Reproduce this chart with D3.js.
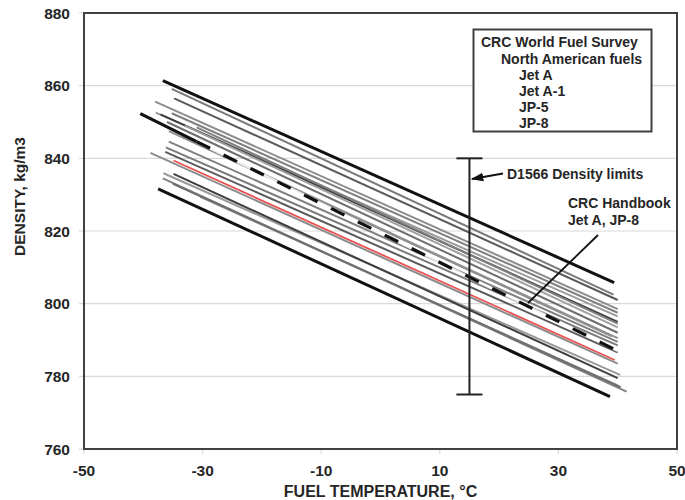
<!DOCTYPE html>
<html>
<head>
<meta charset="utf-8">
<script src="https://cdn.jsdelivr.net/npm/d3@7"></script>
<style>
  html, body { margin: 0; padding: 0; background: #fff; }
  svg { display: block; }
  text { font-family: Arial, "Liberation Sans", sans-serif; font-weight: bold; fill: #262626; }
</style>
</head>
<body>
<svg id="chart" width="685" height="500"></svg>
<script>
// ---------------- DATA ----------------
const xTicks = [-50, -30, -10, 10, 30, 50];
const yTicks = [760, 780, 800, 820, 840, 860, 880];

// CRC World Fuel Survey, North American fuels (density vs temperature lines)
const fuelStartTemp    = [-35.2, -34.8, -38.0, -37.9, -37.1, -35.2, -33.0, -36.0, -35.7, -35.7, -36.2, -36.3, -38.8, -36.6, -34.9, -36.7, -30.4, -35.0, -33.5, -31.0];
const fuelStartDensity = [859.1, 856.5, 855.6, 852.6, 852.1, 852.4, 849.0, 850.0, 847.5, 844.6, 843.0, 841.8, 841.5, 835.9, 835.7, 834.5, 829.4, 833.0, 846.0, 848.5];
const fuelEndTemp      = [ 39.3,  40.0,  40.0,  40.0,  40.0,  40.0,  40.0,  40.0,  39.0,  40.0,  40.0,  40.0,  40.0,  40.4,  40.0,  41.5,  40.0,  40.5,  40.0,  40.0];
const fuelEndDensity   = [802.5, 801.0, 798.5, 796.5, 795.0, 797.5, 793.5, 792.0, 791.0, 789.5, 788.5, 786.6, 783.5, 780.4, 779.5, 775.8, 777.5, 777.0, 790.5, 794.5];

// Red highlighted fuel
const redTemp    = [-34.9, 39.5];
const redDensity = [839.4, 784.5];

// Envelope (thick black) lines
const upperBoundTemp    = [-36.7, 39.4];
const upperBoundDensity = [861.4, 805.8];
const lowerBoundTemp    = [-37.5, 38.7];
const lowerBoundDensity = [831.6, 774.4];

// CRC Handbook Jet A, JP-8
const handbookTemp    = [-40.5, -31.0, 40.0];
const handbookDensity = [852.3, 844.6, 787.0];

// D1566 density limits
const limitTemp = 15;
const limitDensity = [775, 840];

const legendLines = ["CRC World Fuel Survey", "North American fuels", "Jet A", "Jet A-1", "JP-5", "JP-8"];

// ---------------- CHART ----------------
const svg = d3.select("#chart");
const x = d3.scaleLinear().domain([-50, 50]).range([84, 677]);
const y = d3.scaleLinear().domain([760, 880]).range([449, 13]);

// gridlines
svg.append("g").selectAll("line").data(yTicks.filter(d => d > 760 && d < 880)).join("line")
  .attr("x1", x(-50)).attr("x2", x(50))
  .attr("y1", d => y(d)).attr("y2", d => y(d))
  .attr("stroke", "#d9d9d9").attr("stroke-width", 1.2);

// tick marks (small, outside)
svg.append("g").selectAll("line").data(yTicks).join("line")
  .attr("x1", x(-50) - 5).attr("x2", x(-50))
  .attr("y1", d => y(d)).attr("y2", d => y(d))
  .attr("stroke", "#d9d9d9").attr("stroke-width", 1.2);
svg.append("g").selectAll("line").data(xTicks).join("line")
  .attr("x1", d => x(d)).attr("x2", d => x(d))
  .attr("y1", y(760)).attr("y2", y(760) + 5)
  .attr("stroke", "#d9d9d9").attr("stroke-width", 1.2);

// tick labels
svg.append("g").selectAll("text").data(yTicks).join("text")
  .attr("x", 70).attr("y", d => y(d)).attr("dy", "0.36em")
  .attr("text-anchor", "end").attr("font-size", 15.5)
  .text(d => d);
svg.append("g").selectAll("text").data(xTicks).join("text")
  .attr("x", d => x(d)).attr("y", 475.5)
  .attr("text-anchor", "middle").attr("font-size", 15.5)
  .text(d => d);

// axis titles
svg.append("text").attr("x", x(0)).attr("y", 497)
  .attr("text-anchor", "middle").attr("font-size", 16)
  .text("FUEL TEMPERATURE, °C");
svg.append("text").attr("transform", `translate(25, ${y(829.5)}) rotate(-90)`)
  .attr("text-anchor", "middle").attr("font-size", 15.5)
  .text("DENSITY, kg/m3");

// fuel lines
const shades = ["#7a7a7a", "#5a5a5a", "#8c8c8c", "#9a9a9a", "#3f3f3f", "#808080", "#a0a0a0", "#6e6e6e", "#909090", "#7f7f7f"];
const line = d3.line().x(d => x(d[0])).y(d => y(d[1]));
const fuelData = fuelStartTemp.map((t, i) => [[t, fuelStartDensity[i]], [fuelEndTemp[i], fuelEndDensity[i]]]);
svg.append("g").selectAll("path").data(fuelData).join("path")
  .attr("d", line)
  .attr("fill", "none")
  .attr("stroke", (d, i) => shades[i % shades.length])
  .attr("stroke-width", 2);

// red line
svg.append("path").attr("d", line(redTemp.map((t, i) => [t, redDensity[i]])))
  .attr("fill", "none").attr("stroke", "#e8504f").attr("stroke-width", 1.8);

// envelope lines
[[upperBoundTemp, upperBoundDensity], [lowerBoundTemp, lowerBoundDensity]].forEach(([ts, ds]) => {
  svg.append("path").attr("d", line(ts.map((t, i) => [t, ds[i]])))
    .attr("fill", "none").attr("stroke", "#111").attr("stroke-width", 3);
});

// handbook line: solid first part, dashed rest
const hb = handbookTemp.map((t, i) => [t, handbookDensity[i]]);
svg.append("path").attr("d", line(hb.slice(0, 2)))
  .attr("fill", "none").attr("stroke", "#111").attr("stroke-width", 3.2);
svg.append("path").attr("d", line(hb.slice(1)))
  .attr("fill", "none").attr("stroke", "#ffffff").attr("stroke-width", 2.4).attr("stroke-opacity", 0.8);
svg.append("path").attr("d", line(hb.slice(1)))
  .attr("fill", "none").attr("stroke", "#111").attr("stroke-width", 3.2)
  .attr("stroke-dasharray", "15,15");

// D1566 error bar
const capHalf = 2.2;
svg.append("line").attr("x1", x(limitTemp)).attr("x2", x(limitTemp))
  .attr("y1", y(limitDensity[0])).attr("y2", y(limitDensity[1]))
  .attr("stroke", "#222").attr("stroke-width", 2);
limitDensity.forEach(d => {
  svg.append("line").attr("x1", x(limitTemp - capHalf)).attr("x2", x(limitTemp + capHalf))
    .attr("y1", y(d)).attr("y2", y(d))
    .attr("stroke", "#222").attr("stroke-width", 2);
});

// arrow annotation for D1566
const defs = svg.append("defs");
defs.append("marker").attr("id", "arrow").attr("viewBox", "0 0 10 10")
  .attr("refX", 9).attr("refY", 5).attr("markerWidth", 7).attr("markerHeight", 7)
  .attr("orient", "auto-start-reverse")
  .append("path").attr("d", "M0,1.5 L10,5 L0,8.5 Z").attr("fill", "#111");
svg.append("line").attr("x1", 503).attr("y1", 173.5).attr("x2", x(limitTemp) + 2.5).attr("y2", 179)
  .attr("stroke", "#111").attr("stroke-width", 1.8).attr("marker-end", "url(#arrow)");
svg.append("text").attr("x", 507).attr("y", 174).attr("dy", "0.36em")
  .attr("font-size", 14).text("D1566 Density limits");

// CRC handbook annotation
svg.append("text").attr("x", 568).attr("y", 203).attr("dy", "0.36em")
  .attr("font-size", 14).text("CRC Handbook");
svg.append("text").attr("x", 568).attr("y", 220).attr("dy", "0.36em")
  .attr("font-size", 14).text("Jet A, JP-8");
svg.append("line").attr("x1", 598).attr("y1", 235).attr("x2", 528).attr("y2", 303)
  .attr("stroke", "#111").attr("stroke-width", 1.8);

// plot border
svg.append("rect").attr("x", x(-50)).attr("y", y(880))
  .attr("width", x(50) - x(-50)).attr("height", y(760) - y(880))
  .attr("fill", "none").attr("stroke", "#404040").attr("stroke-width", 2);

// legend box
svg.append("rect").attr("x", 473.5).attr("y", 29.5).attr("width", 178).attr("height", 102)
  .attr("fill", "#fff").attr("stroke", "#404040").attr("stroke-width", 2);
const legendX = [481, 501, 519, 519, 519, 519];
svg.append("g").selectAll("text").data(legendLines).join("text")
  .attr("x", (d, i) => legendX[i]).attr("y", (d, i) => 42.3 + i * 16.2).attr("dy", "0.36em")
  .attr("font-size", 14).text(d => d);
</script>
</body>
</html>
